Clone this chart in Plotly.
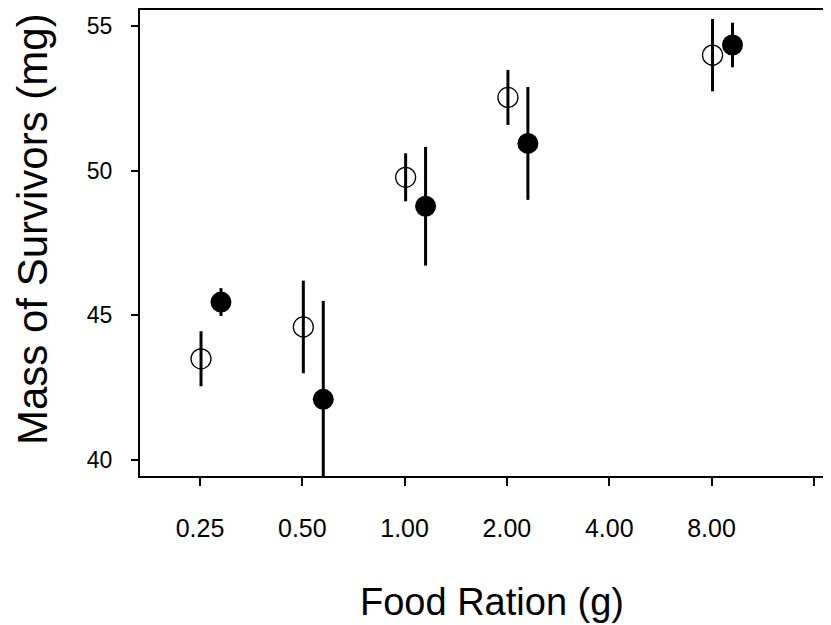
import plotly.graph_objects as go

categories = ["0.25", "0.50", "1.00", "2.00", "4.00", "8.00", ""]
open_mean = [43.5, 44.6, 49.77, 52.53, None, 53.99]
open_err = [0.95, 1.6, 0.83, 0.95, None, 1.25]
filled_mean = [45.46, 42.1, 48.77, 50.94, None, 54.34]
filled_err = [0.48, 3.4, 2.05, 1.95, None, 0.77]

idx = list(range(len(open_mean)))
OPEN_OFF = 0.01
FILL_OFF = 0.205

fig = go.Figure()
fig.add_trace(go.Scatter(
    x=[i + OPEN_OFF for i in idx], y=open_mean, mode="markers",
    marker=dict(symbol="circle-open", size=20, color="black", line=dict(width=1.3, color="black")),
    error_y=dict(type="data", array=open_err, visible=True, thickness=3, width=0, color="black"),
    showlegend=False))
fig.add_trace(go.Scatter(
    x=[i + FILL_OFF for i in idx], y=filled_mean, mode="markers",
    marker=dict(symbol="circle", size=21, color="black"),
    error_y=dict(type="data", array=filled_err, visible=True, thickness=3, width=0, color="black"),
    showlegend=False))

# page body has an 8px margin; figure is sized/offset to compensate
W, H = 823, 617
L, T, B = 132, 0, 149
PW, PH = W - L, H - T - B

font_family = "Liberation Sans, Arial, Helvetica, sans-serif"
fig.update_layout(
    width=W, height=H,
    margin=dict(l=L, r=0, t=T, b=B, pad=0),
    paper_bgcolor="white", plot_bgcolor="white",
    font=dict(family=font_family, color="black"),
    xaxis=dict(range=[-0.5865, 6.168], tickmode="array",
               tickvals=list(range(len(categories))), ticktext=categories,
               showgrid=False, zeroline=False, showline=True, linecolor="black", linewidth=2,
               mirror=True, ticks="outside", ticklen=8, tickwidth=1.5, tickcolor="black",
               tickfont=dict(size=25), ticklabelstandoff=21),
    yaxis=dict(range=[39.45, 55.55], tickvals=[40, 45, 50, 55],
               showgrid=False, zeroline=False, showline=True, linecolor="black", linewidth=2,
               ticks="outside", ticklen=7, tickwidth=1.5, tickcolor="black",
               tickfont=dict(size=23), ticklabelstandoff=14),
    annotations=[
        dict(text="Food Ration (g)", xref="paper", yref="paper", x=(484 - L) / PW, y=-(595 - (H - B)) / PH,
             showarrow=False, font=dict(size=38), xanchor="center", yanchor="middle"),
        dict(text="Mass of Survivors (mg)", xref="paper", yref="paper", x=-(L - 24) / PW, y=((H - B) - 220) / PH,
             showarrow=False, font=dict(size=42), textangle=-90, xanchor="center", yanchor="middle"),
    ],
)
fig.write_html("out.html")
